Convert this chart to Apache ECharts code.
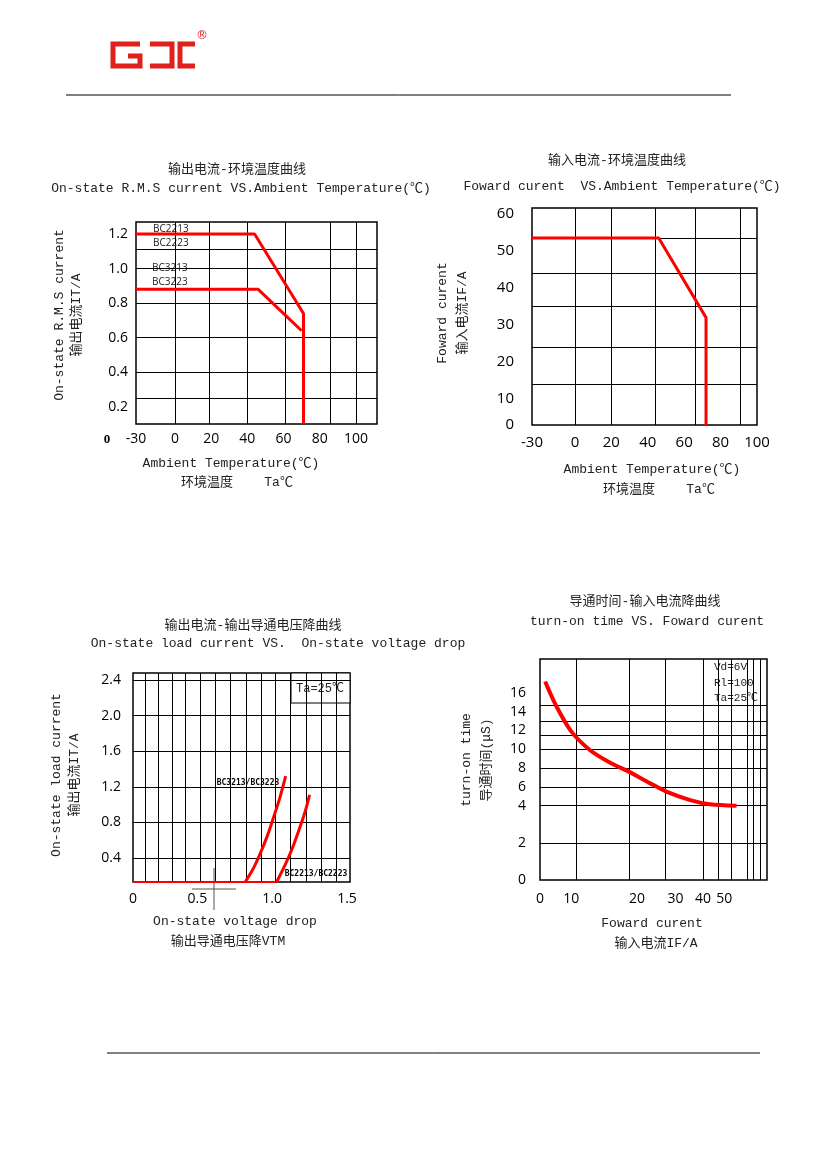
<!DOCTYPE html><html><head><meta charset="utf-8"><script src="https://cdn.jsdelivr.net/npm/echarts@6/dist/echarts.min.js"></script>
<style>html,body{margin:0;padding:0;background:#fff}#c{width:826px;height:1169px}</style></head><body><div id="c"></div><script>
// Chart 1: RMS current vs ambient temperature
const c1XLabels=[-21.5,0,20,40,60,80,100];
const c1YLabels=[0.2,0.4,0.6,0.8,1.0,1.2];
const c1Upper=[[-21.5,1.2],[44,1.2],[71,0.74],[71,0.1]];
const c1Lower=[[-21.5,0.88],[46,0.88],[58,0.76],[70,0.64]];
// Chart 2: forward current vs ambient temperature
const c2XLabels=[-23.6,0,20,40,60,80,100];
const c2YLabels=[3,10,20,30,40,50,60];
const c2Line=[[-23.6,53.5],[46,53.5],[72,32],[72,3]];
// Chart 3: load current vs voltage drop
const c3XLabels=[0.07,0.5,1.0,1.5];
const c3YLabels=[0.4,0.8,1.2,1.6,2.0,2.4];
const c3Flat=[[0.07,0.13],[1.03,0.13]];
const c3A=[[0.82,0.13],[0.87,0.27],[0.92,0.45],[0.97,0.66],[1.01,0.86],[1.05,1.07],[1.09,1.32]];
const c3B=[[1.03,0.13],[1.08,0.3],[1.13,0.49],[1.18,0.72],[1.22,0.92],[1.25,1.11]];
// Chart 4: turn-on time vs forward current
const c4XLabels=[7.2,10,20,30,40,50];
const c4YLabels=[-3.9,0,4,6,8,10,12,14,16];
const c4Curve=[[7.6,17.2],[8.5,14.7],[10,11.9],[12.2,9.9],[15,8.6],[18.4,7.6],[22.9,6.4],[27.2,5.5],[35,4.6],[43,4.15],[57,4.0]];

const lab={color:'#000',fontSize:14,fontFamily:'Open Sans'};
const sl={show:true,lineStyle:{color:'#000',width:1}};
function T(x,y,t,o){return Object.assign({type:'text',x:x,y:y,style:Object.assign({text:t,fill:'#222',font:'13px "Liberation Mono","Noto Sans CJK SC"',align:'center',verticalAlign:'middle'},o||{})});}
function V(x,y,t,f){return {type:'text',x:x,y:y,rotation:Math.PI/2,style:{text:t,fill:'#222',font:f||'13px "Liberation Mono","Noto Sans CJK SC"',align:'center',verticalAlign:'middle'}};}
const red={color:'#ff0000',width:3};
const chart=echarts.init(document.getElementById('c'));
chart.setOption({animation:false,
grid:[{left:136,top:222,width:241,height:202},{left:532,top:208,width:225,height:217},{left:133,top:673,width:217,height:209},{left:540,top:659,width:227,height:221}].map(g=>Object.assign(g,{show:true,borderColor:'#000',borderWidth:1.5})),
xAxis:[
{gridIndex:0,type:'value',min:-21.5,max:111.6,axisLine:{show:false},axisTick:{show:false,customValues:[0,19,40,61,86,100]},splitLine:sl,axisLabel:Object.assign({customValues:c1XLabels,formatter:v=>v<-20?'-30':v},lab)},
{gridIndex:1,type:'value',min:-23.6,max:100,axisLine:{show:false},axisTick:{show:false,customValues:[0,20,44,66,91]},splitLine:sl,axisLabel:Object.assign({customValues:c2XLabels,formatter:v=>v<-20?'-30':v,margin:10},lab,{fontSize:15})},
{gridIndex:2,type:'value',min:0.07,max:1.52,axisLine:{show:false},axisTick:{show:false,customValues:[0.15,0.24,0.33,0.42,0.52,0.62,0.72,0.83,0.93,1.02,1.12,1.23,1.33,1.43]},splitLine:sl,axisLabel:Object.assign({customValues:c3XLabels,formatter:v=>v<0.1?'0':v.toFixed(1),margin:10},lab)},
{gridIndex:3,type:'log',min:7.2,max:78.5,axisLine:{show:false},axisTick:{show:false,customValues:[10.5,18.5,27,40,47,54,64,68,73]},splitLine:sl,axisLabel:Object.assign({customValues:c4XLabels,formatter:v=>v<8?'0':Math.round(v),margin:12},lab)}
],
yAxis:[
{gridIndex:0,type:'value',min:0.1,max:1.27,axisLine:{show:false},axisTick:{show:false,customValues:[0.25,0.4,0.6,0.8,1.0,1.11]},splitLine:sl,axisLabel:Object.assign({customValues:c1YLabels,formatter:v=>v.toFixed(1)},lab)},
{gridIndex:1,type:'value',min:3,max:61.6,axisLine:{show:false},axisTick:{show:false,customValues:[14,24,35,44,53.5]},splitLine:sl,axisLabel:Object.assign({customValues:c2YLabels,formatter:v=>v<5?'0':v,margin:18},lab,{fontSize:15})},
{gridIndex:2,type:'value',min:0.13,max:2.48,axisLine:{show:false},axisTick:{show:false,customValues:[0.4,0.8,1.2,1.6,2.0,2.4]},splitLine:sl,axisLabel:Object.assign({customValues:c3YLabels,formatter:v=>v.toFixed(1),margin:12},lab)},
{gridIndex:3,type:'value',min:-3.9,max:19.6,axisLine:{show:false},axisTick:{show:false,customValues:[0,4,6,8,10,11.5,13,14.7]},splitLine:sl,axisLabel:Object.assign({customValues:c4YLabels,formatter:v=>v<-3?'0':(v===0?'2':v),margin:14},lab)}
],
series:[
{type:'line',xAxisIndex:0,yAxisIndex:0,data:c1Upper,symbol:'none',lineStyle:red},
{type:'line',xAxisIndex:0,yAxisIndex:0,data:c1Lower,symbol:'none',lineStyle:red},
{type:'line',xAxisIndex:1,yAxisIndex:1,data:c2Line,symbol:'none',lineStyle:red},
{type:'line',xAxisIndex:2,yAxisIndex:2,data:c3Flat,symbol:'none',lineStyle:{color:'#ff0000',width:2}},
{type:'line',xAxisIndex:2,yAxisIndex:2,data:c3A,symbol:'none',smooth:0.3,lineStyle:red},
{type:'line',xAxisIndex:2,yAxisIndex:2,data:c3B,symbol:'none',smooth:0.3,lineStyle:red},
{type:'line',xAxisIndex:3,yAxisIndex:3,data:c4Curve,symbol:'none',smooth:0.3,lineStyle:{color:'#ff0000',width:4}}
],
graphic:[
{type:'line',shape:{x1:66,y1:95,x2:731,y2:95},style:{stroke:'#000',lineWidth:1}},
{type:'line',shape:{x1:107,y1:1053,x2:760,y2:1053},style:{stroke:'#000',lineWidth:1}},
{type:'polyline',shape:{points:[[140,44],[113,44],[113,66],[140,66],[140,56],[128,56]]},style:{stroke:'#e0201c',lineWidth:5,fill:null}},
{type:'polyline',shape:{points:[[150,44],[172,44],[172,66],[150,66]]},style:{stroke:'#e0201c',lineWidth:5,fill:null}},
{type:'polyline',shape:{points:[[195,44],[180,44],[180,66],[195,66]]},style:{stroke:'#e0201c',lineWidth:5,fill:null}},
T(202,36,'®',{fill:'#e0201c',font:'12px "DejaVu Sans"'}),
T(237,170,'输出电流-环境温度曲线'),
T(241,189,'On-state R.M.S current VS.Ambient Temperature(℃)'),
T(231,464,'Ambient Temperature(℃)'),
T(237,483,'环境温度    Ta℃'),
T(107,440,'0',{font:'bold 13px "Liberation Serif"',fill:'#000'}),
V(60,315,'On-state R.M.S current'),V(77,315,'输出电流IT/A'),
T(153,229,'BC2213',{align:'left',font:'10px "Open Sans"'}),T(153,243,'BC2223',{align:'left',font:'10px "Open Sans"'}),
T(152,268,'BC3213',{align:'left',font:'10px "Open Sans"'}),T(152,282,'BC3223',{align:'left',font:'10px "Open Sans"'}),
T(617,161,'输入电流-环境温度曲线'),
T(622,187,'Foward curent  VS.Ambient Temperature(℃)'),
T(652,470,'Ambient Temperature(℃)'),
T(659,490,'环境温度    Ta℃'),
V(443,313,'Foward curent'),V(463,313,'输入电流IF/A'),
T(253,626,'输出电流-输出导通电压降曲线'),
T(278,644,'On-state load current VS.  On-state voltage drop'),
T(235,922,'On-state voltage drop'),
T(228,942,'输出导通电压降VTM'),
V(57,775,'On-state load current'),V(75,775,'输出电流IT/A'),
{type:'rect',shape:{x:291,y:673,width:59,height:30},style:{fill:'#fff',stroke:'#000',lineWidth:1}},
T(320,689,'Ta=25℃',{font:'12px "Liberation Mono","Noto Sans CJK SC"'}),
T(248,783,'BC3213/BC3223',{font:'bold 8px "DejaVu Sans Mono"',fill:'#000'}),
T(316,874,'BC2213/BC2223',{font:'bold 8px "DejaVu Sans Mono"',fill:'#000'}),
{type:'line',shape:{x1:214,y1:868,x2:214,y2:910},style:{stroke:'#555',lineWidth:1}},
{type:'line',shape:{x1:192,y1:889,x2:236,y2:889},style:{stroke:'#555',lineWidth:1}},
T(645,602,'导通时间-输入电流降曲线'),
T(647,622,'turn-on time VS. Foward curent'),
T(652,924,'Foward curent'),
T(656,944,'输入电流IF/A'),
V(467,760,'turn-on time'),V(487,760,'导通时间(μS)'),
{type:'rect',shape:{x:706,y:660,width:60,height:43},style:{fill:'#fff'}},
T(714,667,'Vd=6V',{align:'left',font:'11px "Liberation Mono"'}),
T(714,683,'Rl=100',{align:'left',font:'11px "Liberation Mono"'}),
T(714,698,'Ta=25℃',{align:'left',font:'11px "Liberation Mono","Noto Sans CJK SC"'})
]});
</script></body></html>
